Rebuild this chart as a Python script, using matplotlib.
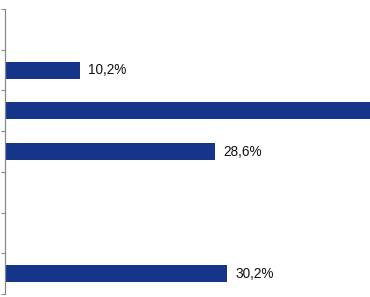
import matplotlib
matplotlib.use("Agg")
import matplotlib.pyplot as plt
import numpy as np

# categories from top to bottom; empty rows carry no bar
categories = ["", "A", "B", "C", "", "", "D"]
values = [0.0, 10.2, 55.0, 28.6, 0.0, 0.0, 30.2]
# the long bar runs past the frame, its label is not visible
labels = ["", "10,2%", "", "28,6%", "", "", "30,2%"]

plt.rcParams['font.family'] = ['Liberation Sans', 'DejaVu Sans']

fig = plt.figure(figsize=(3.7, 2.97), dpi=100)
ax = fig.add_axes([5 / 370, 3 / 297, 1 - 5 / 370, 285 / 297])

y = np.arange(len(categories))
ax.barh(y, values, height=0.42, color='#15358a')

for yi, v, lab in zip(y, values, labels):
    if lab:
        ax.text(v + 1.1, yi, lab, va='center', ha='left', fontsize=9.8,
                color='#111111')

ax.set_xlim(0, 49.6)
ax.set_ylim(len(categories) - 0.5, -0.5)

ax.set_yticks([])
ax.set_yticks(np.arange(-0.5, len(categories)), minor=True)
ax.tick_params(axis='y', which='minor', length=3, width=0.8, color='#888888', direction='out')
ax.set_xticks([])

for s in ['top', 'right', 'bottom']:
    ax.spines[s].set_visible(False)
ax.spines['left'].set_color('#888888')
ax.spines['left'].set_linewidth(0.9)

fig.savefig('out.png', dpi=100)
